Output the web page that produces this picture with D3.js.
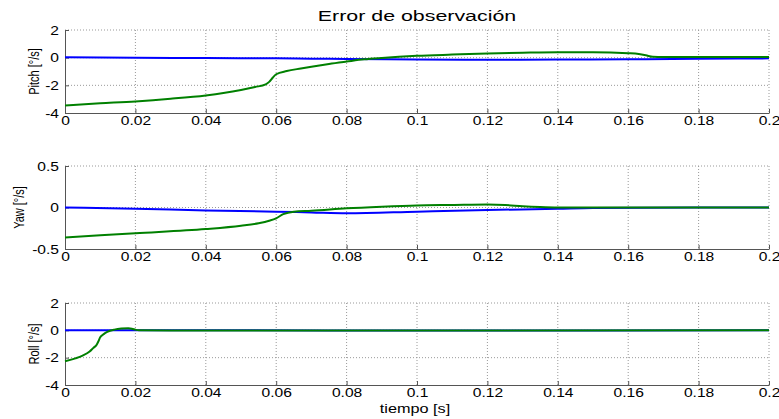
<!DOCTYPE html>
<html>
<head>
<meta charset="utf-8">
<script src="https://cdn.jsdelivr.net/npm/d3@7"></script>
<style>
  body { margin: 0; background: #fff; }
  svg { font-family: "Liberation Sans", Arial, sans-serif; }
</style>
</head>
<body>
<div id="chart"></div>
<script>
// data
var xTicks = [0, 0.02, 0.04, 0.06, 0.08, 0.1, 0.12, 0.14, 0.16, 0.18, 0.2];

var pitchGreenT = [0, 0.01, 0.02, 0.03, 0.04, 0.045, 0.05, 0.054, 0.057, 0.058, 0.059, 0.06, 0.063, 0.067, 0.07, 0.075, 0.08, 0.085, 0.09, 0.1, 0.11, 0.12, 0.13, 0.14, 0.15, 0.16, 0.163, 0.165, 0.167, 0.17, 0.18, 0.19, 0.2];
var pitchGreen  = [-3.45, -3.3, -3.16, -2.97, -2.73, -2.56, -2.34, -2.12, -1.93, -1.75, -1.45, -1.2, -0.97, -0.78, -0.65, -0.45, -0.28, -0.12, -0.02, 0.13, 0.22, 0.3, 0.36, 0.4, 0.4, 0.32, 0.26, 0.17, 0.06, 0.04, 0.05, 0.05, 0.05];
var pitchBlueT = [0, 0.02, 0.04, 0.06, 0.07, 0.08, 0.1, 0.12, 0.14, 0.16, 0.18, 0.2];
var pitchBlue  = [0.03, 0.0, -0.03, -0.05, -0.07, -0.1, -0.13, -0.15, -0.14, -0.12, -0.08, -0.05];

var yawGreenT = [0, 0.02, 0.04, 0.05, 0.055, 0.058, 0.06, 0.062, 0.065, 0.07, 0.08, 0.09, 0.1, 0.11, 0.12, 0.125, 0.13, 0.135, 0.14, 0.2];
var yawGreen  = [-0.36, -0.31, -0.26, -0.22, -0.19, -0.16, -0.13, -0.08, -0.05, -0.04, -0.01, 0.01, 0.025, 0.03, 0.035, 0.03, 0.015, 0.005, 0.0, 0.0];
var yawBlueT = [0, 0.02, 0.04, 0.06, 0.07, 0.08, 0.1, 0.12, 0.14, 0.15, 0.2];
var yawBlue  = [0.0, -0.015, -0.035, -0.05, -0.06, -0.07, -0.05, -0.03, -0.015, -0.005, 0];

var rollGreenT = [0, 0.003, 0.005, 0.007, 0.008, 0.009, 0.0095, 0.01, 0.011, 0.012, 0.014, 0.016, 0.018, 0.019, 0.02, 0.021, 0.03, 0.2];
var rollGreen  = [-2.26, -2.05, -1.85, -1.55, -1.3, -1.05, -0.8, -0.5, -0.28, -0.12, 0.05, 0.13, 0.15, 0.12, 0.05, 0.0, -0.02, 0.0];
var rollBlueT = [0, 0.05, 0.1, 0.2];
var rollBlue  = [0, 0, -0.02, 0];

var panels = [
  {label: "Pitch [°/s]", labelX: 34, top: 30, bottom: 113, domain: [-4, 2], ticks: [-4, -2, 0, 2],
   blue: [pitchBlueT, pitchBlue], green: [pitchGreenT, pitchGreen]},
  {label: "Yaw [°/s]", labelX: 19, top: 166, bottom: 249, domain: [-0.5, 0.5], ticks: [-0.5, 0, 0.5],
   blue: [yawBlueT, yawBlue], green: [yawGreenT, yawGreen]},
  {label: "Roll [°/s]", labelX: 34, top: 303, bottom: 385, domain: [-4, 2], ticks: [-4, -2, 0, 2],
   blue: [rollBlueT, rollBlue], green: [rollGreenT, rollGreen]}
];

var W = 779, H = 419, left = 65, right = 769;
var sx = 1.2; // glyphs in the picture are wider than tall

var svg = d3.select("#chart").append("svg")
  .attr("width", W).attr("height", H);

var x = d3.scaleLinear().domain([0, 0.2]).range([left, right]);

panels.forEach(function(p) {
  var y = d3.scaleLinear().domain(p.domain).range([p.bottom, p.top]);
  var g = svg.append("g");

  // dotted grid
  g.selectAll(".vg").data(xTicks.slice(1)).enter().append("line")
    .attr("x1", function(d) { return x(d); }).attr("x2", function(d) { return x(d); })
    .attr("y1", p.top).attr("y2", p.bottom)
    .attr("stroke", "#999").attr("stroke-width", 1).attr("stroke-dasharray", "1,2");
  g.selectAll(".hg").data(p.ticks.slice(1)).enter().append("line")
    .attr("x1", left).attr("x2", right)
    .attr("y1", function(d) { return y(d); }).attr("y2", function(d) { return y(d); })
    .attr("stroke", "#999").attr("stroke-width", 1).attr("stroke-dasharray", "1,2");

  // axes, ticks inward
  var xa = g.append("g").attr("transform", "translate(0," + p.bottom + ")")
    .call(d3.axisBottom(x).tickValues(xTicks).tickSizeInner(-4).tickSizeOuter(0).tickPadding(3)
      .tickFormat(function(d) { return String(+d.toFixed(2)); }));
  var ya = g.append("g").attr("transform", "translate(" + left + ",0)")
    .call(d3.axisLeft(y).tickValues(p.ticks).tickSizeInner(-4).tickSizeOuter(0).tickPadding(5)
      .tickFormat(function(d) { return String(d); }));
  [xa, ya].forEach(function(a) {
    a.select(".domain").attr("stroke", "#555");
    a.selectAll(".tick line").attr("stroke", "#555");
    a.selectAll("text").attr("font-size", 13).attr("fill", "#000")
      .attr("font-family", "Liberation Sans, Arial, sans-serif")
      .attr("transform", "scale(" + sx + ",1)");
  });

  var line = d3.line()
    .x(function(d) { return x(d[0]); })
    .y(function(d) { return y(d[1]); })
    .curve(d3.curveMonotoneX);

  [["blue", "#0000ff"], ["green", "#008000"]].forEach(function(s) {
    var pts = d3.zip(p[s[0]][0], p[s[0]][1]);
    g.append("path").datum(pts)
      .attr("d", line)
      .attr("fill", "none")
      .attr("stroke", s[1])
      .attr("stroke-width", 2);
  });

  g.append("text")
    .attr("transform", "translate(" + p.labelX + "," + ((p.top + p.bottom) / 2) + ") rotate(-90) scale(1,1.25)")
    .attr("text-anchor", "middle")
    .attr("dy", "0.35em")
    .attr("font-size", 11)
    .text(p.label);
});

svg.append("text")
  .attr("transform", "translate(417,21) scale(1.38,1)")
  .attr("text-anchor", "middle")
  .attr("font-size", 15.5)
  .text("Error de observación");

svg.append("text")
  .attr("transform", "translate(415,413) scale(1.25,1)")
  .attr("text-anchor", "middle")
  .attr("font-size", 13)
  .text("tiempo [s]");
</script>
</body>
</html>
